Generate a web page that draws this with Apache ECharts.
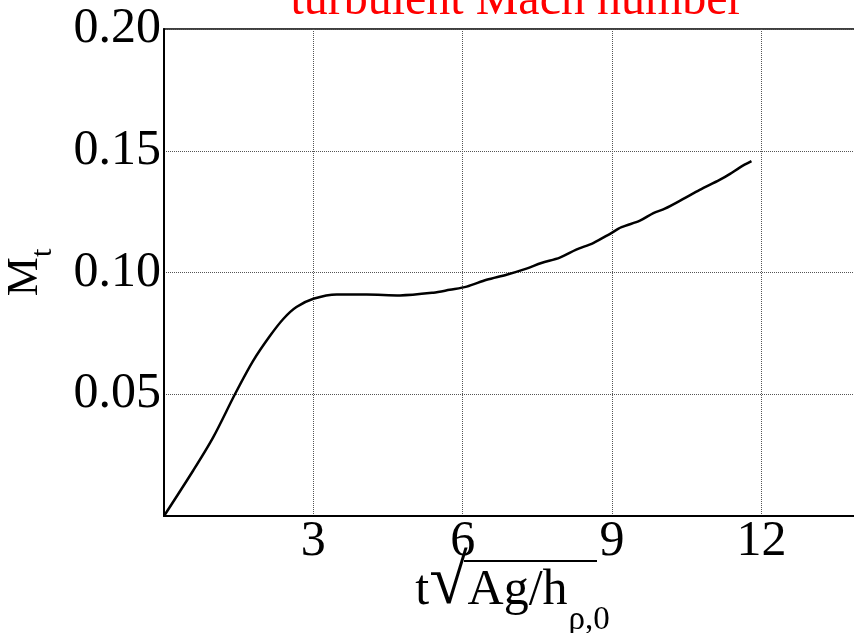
<!DOCTYPE html>
<html>
<head>
<meta charset="UTF-8">
<title>turbulent Mach number</title>
<script src="https://cdn.jsdelivr.net/npm/echarts@6/dist/echarts.min.js"></script>
<style type="text/css">
body{margin:0;padding:0;background:#fff;}
#main{width:854px;height:633px;}
</style>
</head>
<body>
<div id="main"></div>
<script type="text/javascript">
// values
var tData  = [0, 0.59, 0.99, 1.43, 1.79, 2.13, 2.40, 2.66, 3.00, 3.47, 4.07, 4.74, 5.41, 5.74, 6.08, 6.48, 6.88,
              7.28, 7.58, 7.95, 8.28, 8.62, 8.96, 9.19, 9.56, 9.83, 10.06, 10.43, 10.76, 11.16, 11.37, 11.57, 11.80];
var mtData = [0, 0.0188, 0.0324, 0.0502, 0.0637, 0.0740, 0.0810, 0.0858, 0.0892, 0.0910, 0.0910, 0.0906, 0.0917, 0.0929,
              0.0942, 0.0970, 0.0991, 0.1016, 0.1039, 0.1061, 0.1094, 0.1121, 0.1159, 0.1186, 0.1213, 0.1244, 0.1262,
              0.1302, 0.1339, 0.1380, 0.1405, 0.1432, 0.1457];
var xTicks = [0, 14, 3];      // min, max, step
var yTicks = [0, 0.2, 0.05];

var font = '"Liberation Serif", "Times New Roman", serif';
var chart = echarts.init(document.getElementById('main'));

chart.setOption({
    animation: false,
    title: {
        text: 'turbulent Mach number',
        left: 512,
        textAlign: 'center',
        top: -28,
        textStyle: {color: '#ff0000', fontFamily: font, fontSize: 48, fontWeight: 'normal'}
    },
    grid: {
        left: 164, top: 29, width: 697, height: 487,
        outerBoundsMode: 'none', containLabel: false,
        show: true, borderColor: '#000', borderWidth: 1.5
    },
    xAxis: {
        type: 'value',
        min: xTicks[0], max: xTicks[1], interval: xTicks[2],
        name: '{m|t}{rt|√}{m|Ag/h}{sub|ρ,0}',
        nameLocation: 'middle',
        nameMoveOverlap: false,
        nameGap: 28,
        nameTextStyle: {
            color: '#000', fontFamily: font, fontSize: 50,
            rich: {
                m: {fontFamily: font, fontSize: 50, color: '#000'},
                rt: {fontFamily: font, fontSize: 70, color: '#000', padding: [0, 0, 12, 0]},
                sub: {fontFamily: font, fontSize: 33, color: '#000', padding: [60, 0, 0, 1]}
            }
        },
        axisLine: {lineStyle: {color: '#000', width: 2}},
        axisTick: {show: false},
        splitLine: {lineStyle: {type: 'dotted', color: '#555', width: 1}},
        axisLabel: {color: '#000', fontFamily: font, fontSize: 50, margin: 1, showMinLabel: false, showMaxLabel: false}
    },
    yAxis: {
        type: 'value',
        min: yTicks[0], max: yTicks[1], interval: yTicks[2],
        name: 'M{sub|t}',
        nameLocation: 'middle',
        nameRotate: 90,
        nameGap: 106,
        nameTextStyle: {
            color: '#000', fontFamily: font, fontSize: 44,
            rich: {sub: {fontFamily: font, fontSize: 30, color: '#000', padding: [36, 0, 0, 0]}}
        },
        axisLine: {lineStyle: {color: '#000', width: 2}},
        axisTick: {show: false},
        splitLine: {lineStyle: {type: 'dotted', color: '#555', width: 1}},
        axisLabel: {
            color: '#000', fontFamily: font, fontSize: 50, margin: 3, showMinLabel: false,
            formatter: function (v) { return v.toFixed(2); }
        }
    },
    // bar of the square root over "Ag/h"
    graphic: [{
        type: 'line',
        shape: {x1: 464, y1: 561, x2: 597, y2: 561},
        style: {stroke: '#000', lineWidth: 2}
    }],
    series: [{
        type: 'line',
        smooth: 0.3,
        symbol: 'none',
        lineStyle: {color: '#000', width: 2.5},
        data: tData.map(function (t, i) { return [t, mtData[i]]; })
    }]
});
</script>
</body>
</html>
